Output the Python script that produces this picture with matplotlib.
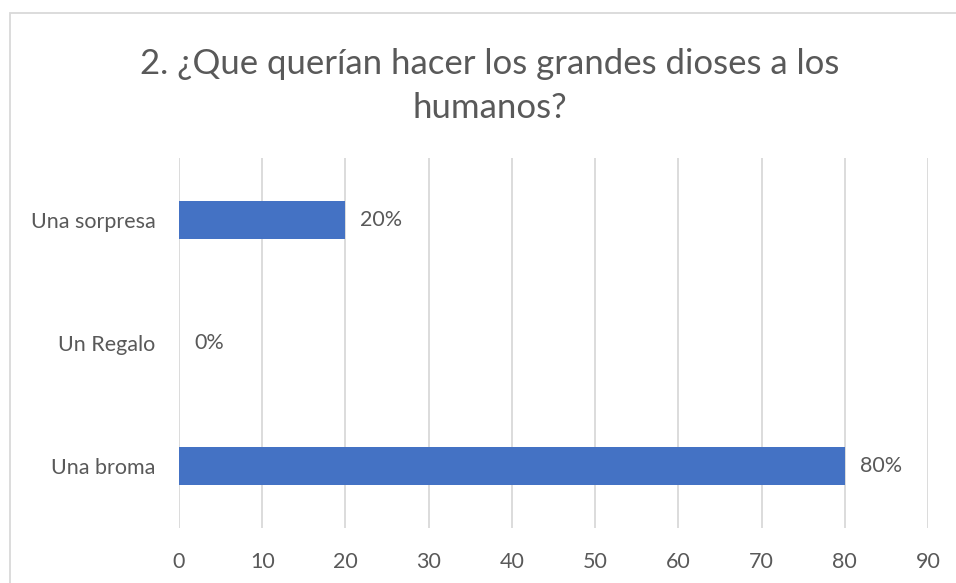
import matplotlib
matplotlib.use("Agg")
import matplotlib.pyplot as plt
from matplotlib.patches import Rectangle

plt.rcParams['font.family'] = ['Lato', 'DejaVu Sans']

# data
categorias = ['Una broma', 'Un Regalo', 'Una sorpresa']
valores = [80, 0, 20]
etiquetas = ['80%', '0%', '20%']
xticks = [0, 10, 20, 30, 40, 50, 60, 70, 80, 90]
titulo = '2. ¿Que querían hacer los grandes dioses a los\nhumanos?'

W, H = 956, 583
fig = plt.figure(figsize=(W / 100, H / 100), dpi=100)
fig.patch.set_facecolor('white')

# chart border (cut at right and bottom)
fig.patches.append(Rectangle((9.5 / W, -0.1), 1.2, 1.1 - 13.5 / H,
                             transform=fig.transFigure, fill=False,
                             edgecolor='#D9D9D9', linewidth=1.3))

ax = fig.add_axes([179 / W, 1 - 528 / H, (928 - 179) / W, (528 - 158) / H])
texto = '#595959'

pos = range(len(categorias))
ax.barh(pos, valores, height=0.31, color='#4472C4', zorder=3)
for p, v, e in zip(pos, valores, etiquetas):
    ax.annotate(e, (v, p), xytext=(15, 0), textcoords='offset pixels',
                va='center', ha='left', fontsize=15.5, color=texto)

ax.set_xlim(0, 90)
ax.set_ylim(-0.5, 2.5)
ax.set_xticks(xticks)
ax.set_yticks(list(pos))
ax.set_yticklabels(categorias)
ax.grid(axis='x', color='#D9D9D9', linewidth=1.3, zorder=0)
for s in ax.spines.values():
    s.set_visible(False)
ax.tick_params(axis='both', length=0, labelsize=15.5, labelcolor=texto)
ax.tick_params(axis='y', pad=17)
ax.tick_params(axis='x', pad=17)

fig.text(490 / W, 1 - 86 / H, titulo, ha='center', va='center',
         fontsize=25, color=texto, linespacing=1.45)

fig.savefig('out.png', dpi=100)
